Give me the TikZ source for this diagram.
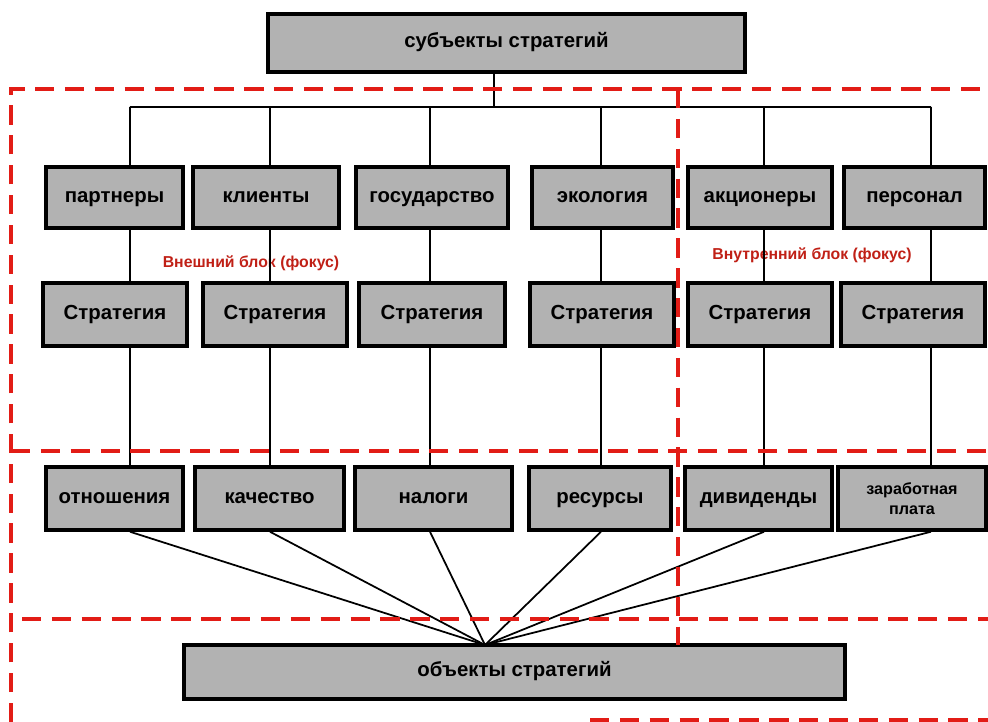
\documentclass[tikz,border=0pt]{standalone}
\usepackage{fontspec}
\setmainfont{Liberation Sans}
\usetikzlibrary{positioning}
\definecolor{boxgray}{RGB}{178,178,178}
\definecolor{framered}{RGB}{226,28,22}
\definecolor{labelred}{RGB}{192,32,22}

\begin{document}
\begin{tikzpicture}[x=0.02cm, y=-0.02cm]

% Styles for boxes and lines
\tikzstyle{box} = [rectangle, draw, line width=2pt, fill=boxgray, font=\fontsize{11.6}{13}\selectfont\bfseries, text centered, text height=1.5ex, text depth=0.45ex, minimum width=2.88cm, minimum height=1.26cm, inner sep=2pt]
\tikzstyle{line} = [draw, line width=1pt]
\tikzstyle{frame} = [draw=framered, line width=2.3pt, dash pattern=on 11pt off 6pt]
\tikzstyle{note} = [text=labelred, font=\fontsize{9}{11}\selectfont\bfseries]

\useasboundingbox (0,0) rectangle (988,722);

% Nodes
\node [box, minimum width=9.54cm, minimum height=1.16cm] (subj) at (506.5,43) {субъекты стратегий};

\node [box, minimum width=2.74cm, minimum height=1.22cm] (partn) at (114.5,197.5) {партнеры};
\node [box, minimum width=2.92cm, minimum height=1.22cm] (client) at (266,197.5) {клиенты};
\node [box, minimum width=3.04cm, minimum height=1.22cm] (state) at (432,197.5) {государство};
\node [box, minimum width=2.82cm, minimum height=1.22cm] (eco) at (602.5,197.5) {экология};
\node [box, minimum width=2.88cm, minimum height=1.22cm] (share) at (760,197.5) {акционеры};
\node [box, minimum width=2.82cm, minimum height=1.22cm] (staff) at (914.5,197.5) {персонал};

\node [box] (str1) at (115,314.5) {Стратегия};
\node [box] (str2) at (275,314.5) {Стратегия};
\node [box, minimum width=2.92cm] (str3) at (432,314.5) {Стратегия};
\node [box] (str4) at (602,314.5) {Стратегия};
\node [box] (str5) at (760,314.5) {Стратегия};
\node [box] (str6) at (913,314.5) {Стратегия};

\node [box, minimum width=2.74cm] (rel) at (114.5,498.5) {отношения};
\node [box, minimum width=2.98cm] (qual) at (269.5,498.5) {качество};
\node [box, minimum width=3.14cm] (tax) at (433.5,498.5) {налоги};
\node [box, minimum width=2.84cm] (res) at (600,498.5) {ресурсы};
\node [box, minimum width=2.94cm] (div) at (758.5,498.5) {дивиденды};
\node [box, minimum width=2.96cm, align=center, text height=, text depth=, font=\fontsize{9.2}{11}\selectfont\bfseries] (wage) at (912,498.5) {заработная\\плата};

\node [box, minimum width=13.22cm, minimum height=1.08cm] (obj) at (514.5,672) {объекты стратегий};

\node [note] (outer) at (251,263) {Внешний блок (фокус)};
\node [note] (inner) at (812,255) {Внутренний блок (фокус)};

% Bus and fan points
\coordinate (c0) at (494,107);
\coordinate (c1) at (130,107);
\coordinate (c2) at (270,107);
\coordinate (c3) at (430,107);
\coordinate (c4) at (601,107);
\coordinate (c5) at (764,107);
\coordinate (c6) at (931,107);
\coordinate (fan) at (485,645);

% Edges
\draw[line] (subj.south -| c0) -- (c0);
\draw[line] (c1) -- (c6);
\draw[line] (c1) -- (partn.north -| c1) (partn.south -| c1) -- (str1.north -| c1) (str1.south -| c1) -- (rel.north -| c1) (rel.south -| c1) -- (fan);
\draw[line] (c2) -- (client.north -| c2) (client.south -| c2) -- (str2.north -| c2) (str2.south -| c2) -- (qual.north -| c2) (qual.south -| c2) -- (fan);
\draw[line] (c3) -- (state.north -| c3) (state.south -| c3) -- (str3.north -| c3) (str3.south -| c3) -- (tax.north -| c3) (tax.south -| c3) -- (fan);
\draw[line] (c4) -- (eco.north -| c4) (eco.south -| c4) -- (str4.north -| c4) (str4.south -| c4) -- (res.north -| c4) (res.south -| c4) -- (fan);
\draw[line] (c5) -- (share.north -| c5) (share.south -| c5) -- (str5.north -| c5) (str5.south -| c5) -- (div.north -| c5) (div.south -| c5) -- (fan);
\draw[line] (c6) -- (staff.north -| c6) (staff.south -| c6) -- (str6.north -| c6) (str6.south -| c6) -- (wage.north -| c6) (wage.south -| c6) -- (fan);

% Red focus frames
\draw[frame] (11,722) -- (11,89) -- (988,89);
\draw[frame] (11,451) -- (988,451);
\draw[frame] (22,619) -- (988,619);
\draw[frame] (678,89) -- (678,645);
\draw[frame] (590,720) -- (988,720);

\end{tikzpicture}
\end{document}
